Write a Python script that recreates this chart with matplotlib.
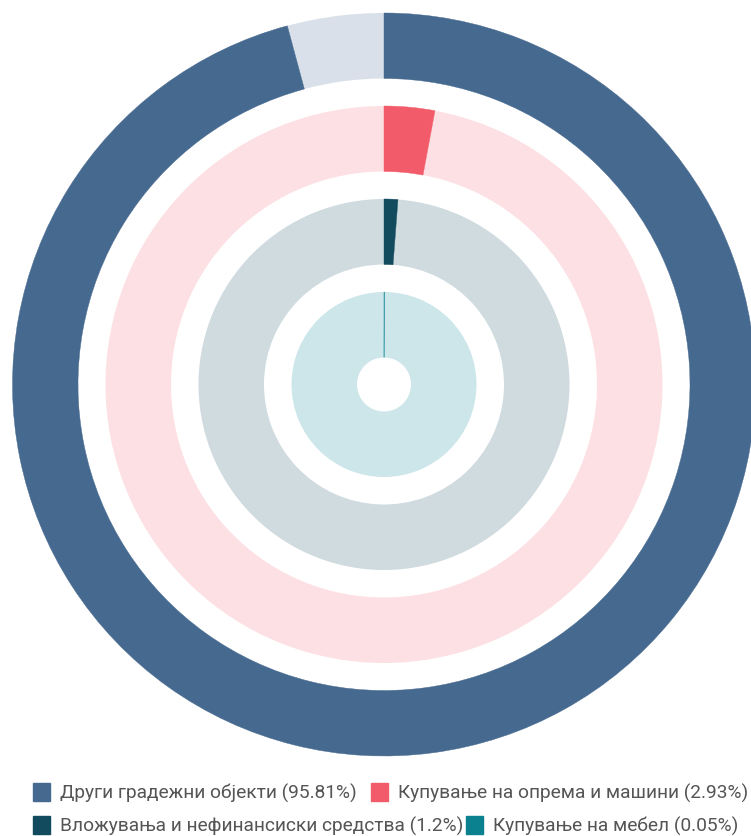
import matplotlib.pyplot as plt
from matplotlib.patches import Rectangle

# --- data ---
labels = ["Други градежни објекти", "Купување на опрема и машини",
          "Вложувања и нефинансиски средства", "Купување на мебел"]
shares = [95.81, 2.93, 1.2, 0.05]
legend_labels = ["Други градежни објекти (95.81%)", "Купување на опрема и машини (2.93%)",
                 "Вложувања и нефинансиски средства (1.2%)", "Купување на мебел (0.05%)"]

colors = ["#46698f", "#f25c6a", "#134b5e", "#0b8190"]
tracks = ["#d9e0e9", "#fde0e3", "#d0dbdf", "#cde6ea"]

W, H = 751, 837
fig = plt.figure(figsize=(W / 100, H / 100), dpi=100)
ax = fig.add_axes([0, 0, 1, 1])

cx, cy = 384, H - 385.5
outer = [371.5, 278.5, 185.5, 92.5]
width = 65.5

for v, r, c, t in zip(shares, outer, colors, tracks):
    wedges, _ = ax.pie([v, 100 - v], radius=r, center=(cx, cy), startangle=90,
                       counterclock=False, colors=[c, t],
                       wedgeprops=dict(width=width, linewidth=0))
    # hairline edge so a sub-pixel slice (0.05%) still shows, as in the original
    wedges[0].set_edgecolor(c)
    wedges[0].set_linewidth(0.3)
    wedges[0].set_zorder(2)

ax.set_xlim(0, W)
ax.set_ylim(0, H)
ax.set_aspect("equal")
ax.axis("off")

# --- legend (flowing, two rows) ---
rows = [(793, [(33, 0), (371, 1)]), (826, [(33, 2), (466, 3)])]
for y, items in rows:
    for x, i in items:
        ax.add_patch(Rectangle((x, H - y - 9), 17, 18, color=colors[i], zorder=3))
        ax.text(x + 27, H - y, legend_labels[i], fontsize=13.8, family="Roboto",
                color="#555555", va="center", ha="left", zorder=2)

fig.savefig("out.png", dpi=100)
